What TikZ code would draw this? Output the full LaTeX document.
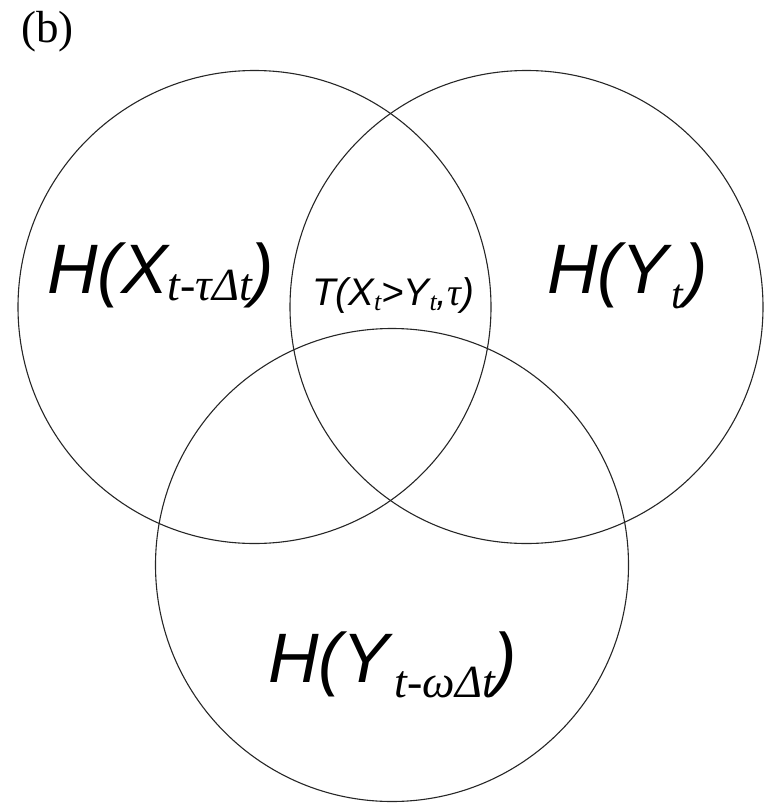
\documentclass[tikz,border=0pt]{standalone}
\usepackage{fontspec}
\setmainfont{Liberation Serif}
\setsansfont{Liberation Sans}
\newcommand\bigsans{\fontsize{70}{70}\selectfont\sffamily\itshape}
\newcommand\midsans{\fontsize{38.5}{38.5}\selectfont\sffamily\itshape}
\newcommand\subser[3]{\raisebox{-#1}{\fontsize{#2}{#2}\selectfont\rmfamily\itshape #3}}
\tikzset{
  venn/.style={circle, draw=black!85, line width=1.1pt, minimum size=473pt, inner sep=0pt},
  lbl/.style={anchor=base west, inner sep=0pt}
}
\begin{document}
\begin{tikzpicture}[x=1pt,y=-1pt]
\useasboundingbox (0,0) rectangle (771,803);
\node[venn] (L) at (254.5,307) {};
\node[venn] (R) at (526.5,307) {};
\node[venn] (B) at (392,565) {};
\node[lbl] (b) at (21,42) {\fontsize{45}{45}\selectfont (b)};
\node[lbl] (hx) at (47,293) {\bigsans H(X\subser{7pt}{46}{t-τΔt}\kern-2pt)};
\node[lbl] (hy) at (547,293) {\bigsans H(Y\kern4pt\subser{15pt}{42}{t}\kern1pt)};
\node[lbl] (hyw) at (268,682) {\bigsans H(Y\kern6pt\subser{15pt}{46}{t-ωΔt}\kern-2pt)};
\node[lbl] (t) at (312,305) {\midsans T(X\subser{5pt}{26}{t}>Y\subser{5pt}{26}{t},{\rmfamily\itshape τ})};
\end{tikzpicture}
\end{document}
